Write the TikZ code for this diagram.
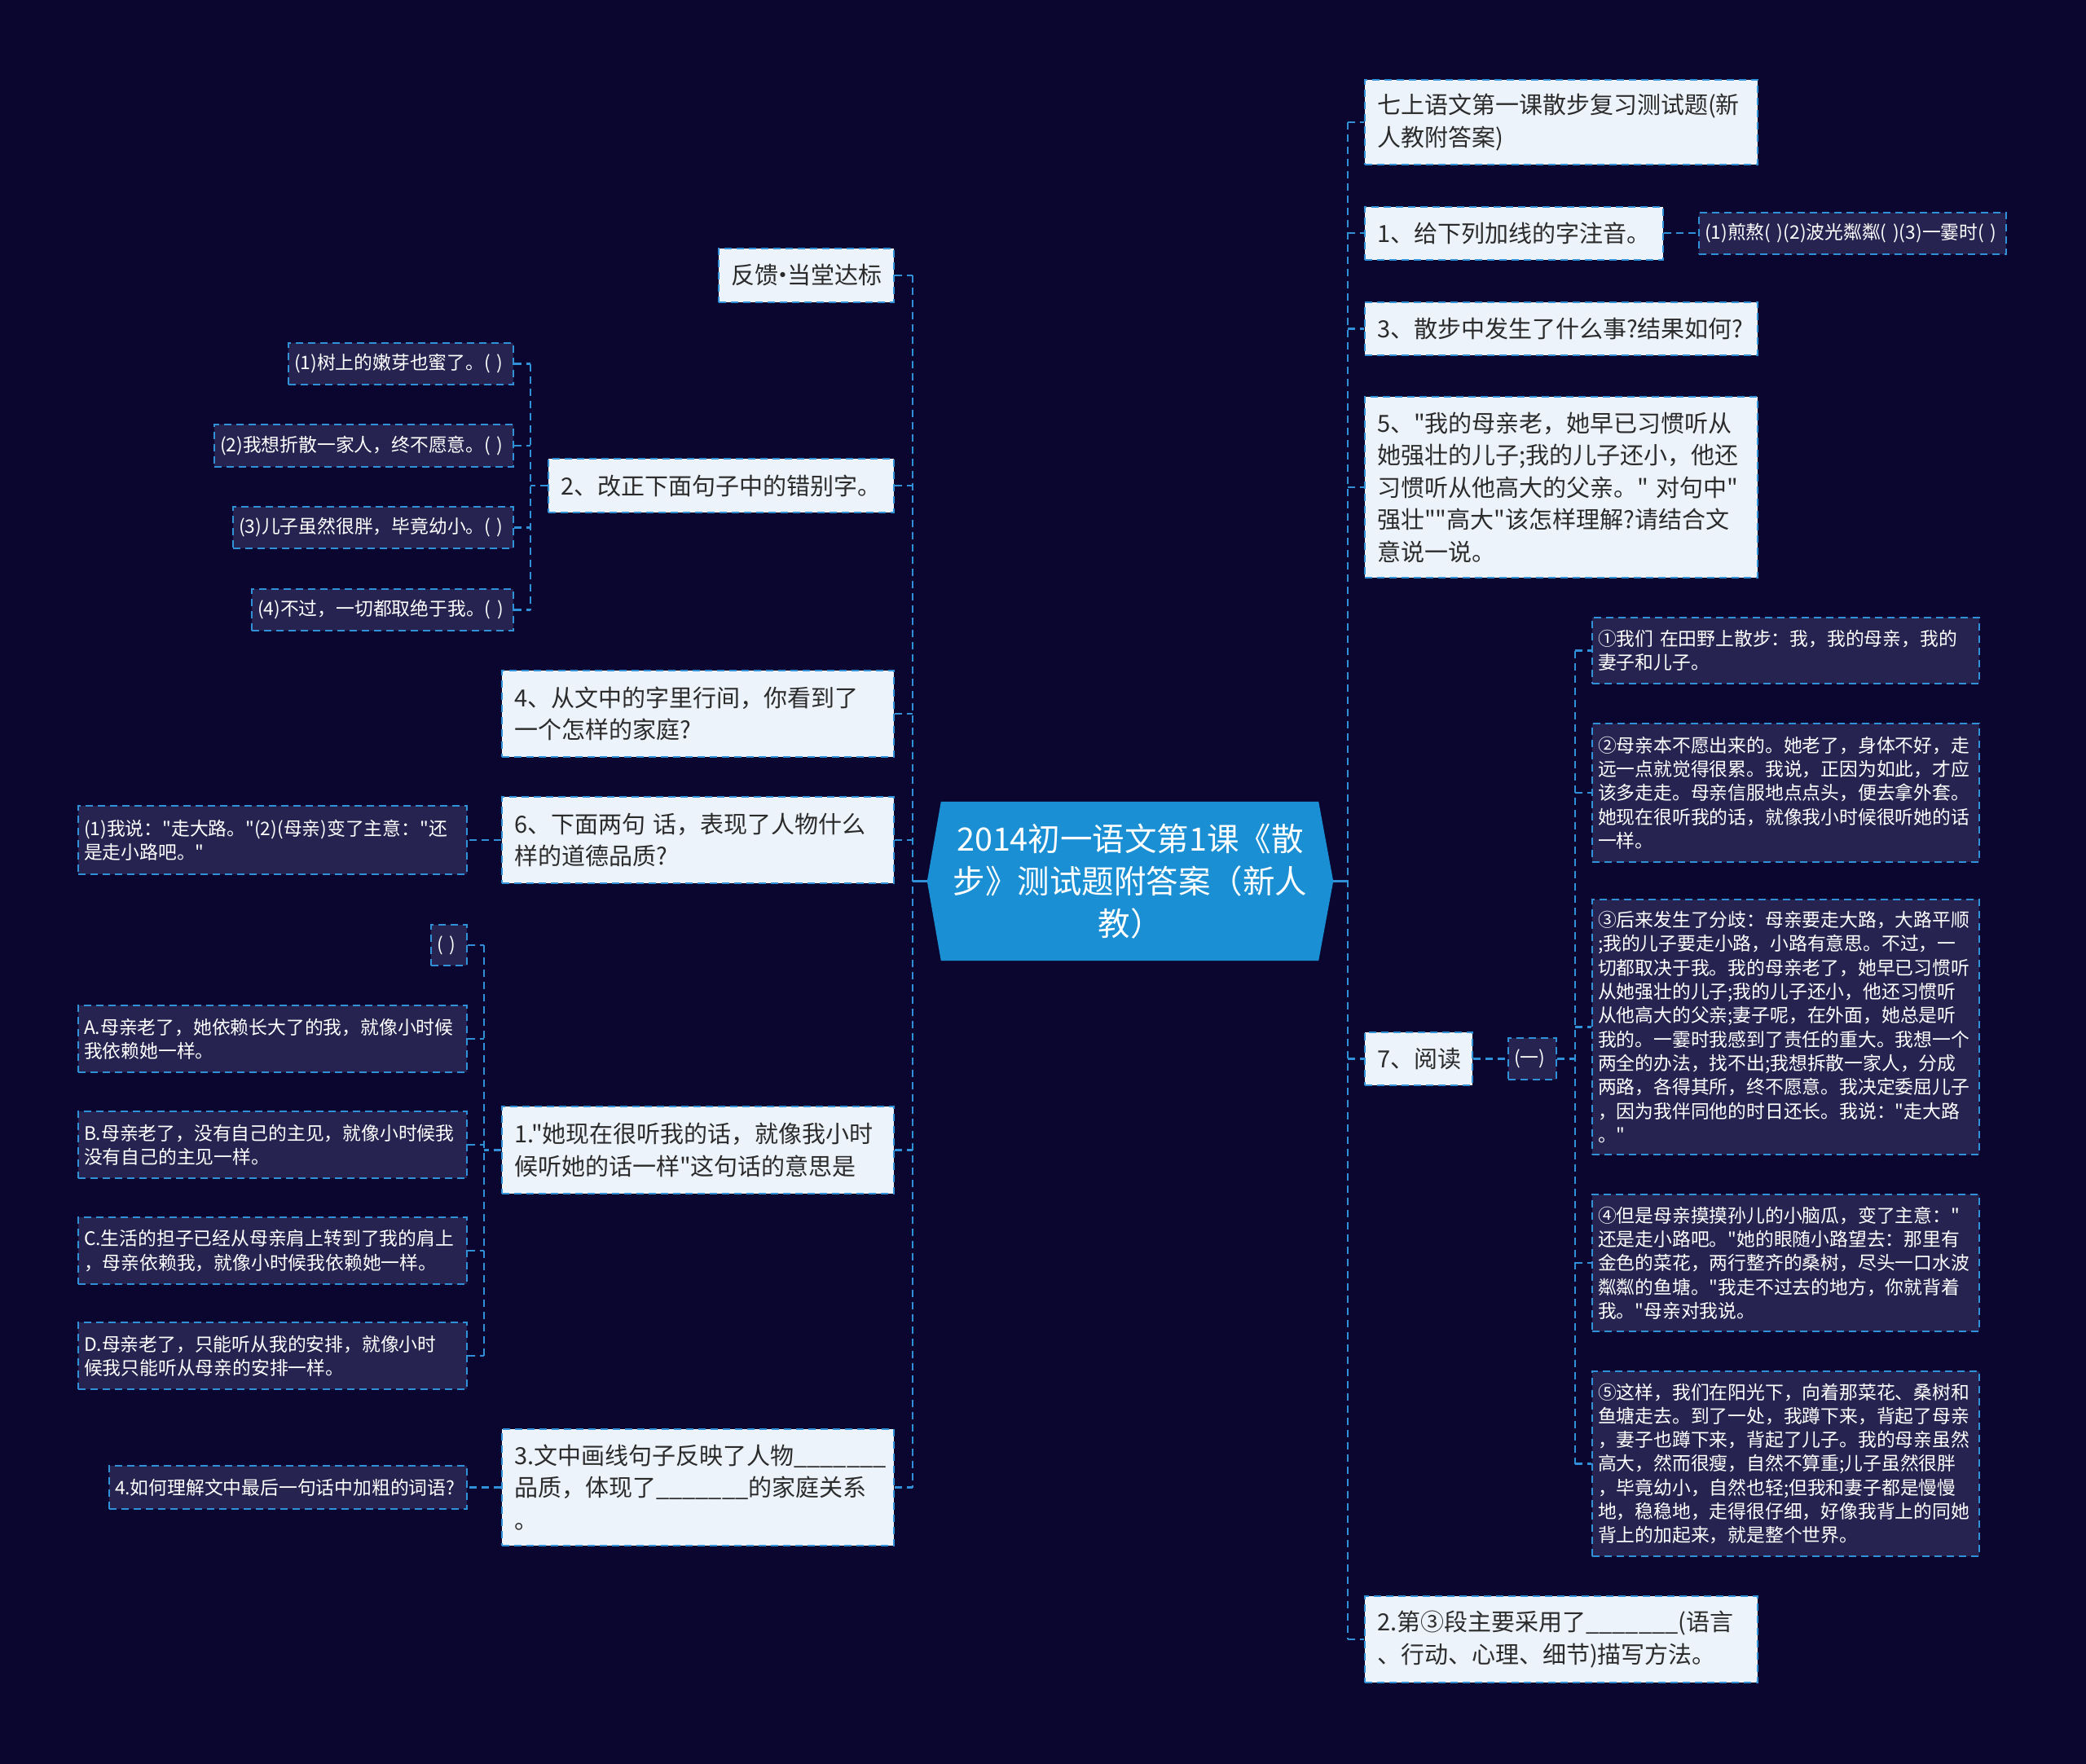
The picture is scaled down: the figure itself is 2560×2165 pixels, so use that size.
\documentclass[tikz,border=0pt]{standalone}
\usepackage{fontspec}
\setmainfont{Noto Sans CJK SC}[Ligatures=TeXOff]
\usetikzlibrary{backgrounds}
\definecolor{bgnavy}{HTML}{0B0630}
\definecolor{lightfill}{HTML}{EDF3FB}
\definecolor{darkfill}{HTML}{262350}
\definecolor{lineblue}{HTML}{3090D8}
\definecolor{rootblue}{HTML}{1A8FD3}
\definecolor{darktext}{HTML}{2B2B2B}
\begin{document}
\begin{tikzpicture}[x=1pt,y=-1pt,
  boxbase/.style={draw=lineblue, line width=2pt, dash pattern=on 9pt off 6pt, align=left, inner ysep=2pt},
  lightbox/.style={boxbase, fill=lightfill, text=darktext, inner xsep=15pt, font=\fontsize{29}{39.5}\selectfont},
  darkbox/.style={boxbase, fill=darkfill, text=white, inner xsep=7pt, font=\fontsize{22.8}{29.3}\selectfont},
  conn/.style={draw=lineblue, line width=2.4pt, dash pattern=on 9pt off 6pt},
  rootlink/.style={draw=lineblue, line width=2.4pt},
  roottext/.style={text=white, align=center, inner sep=0pt, font=\fontsize{39.5}{52}\selectfont}
]
\useasboundingbox (0,0) rectangle (2560,2165);

% ---------- root ----------
\node[roottext, text width=480pt, minimum width=498pt, minimum height=195pt] (root) at (1387,1081.5)
  {2014初一语文第1课《散\\步》测试题附答案（新人\\教）};

% ---------- right side ----------
\node[lightbox, text width=452pt, minimum height=104pt] (R1) at (1916,150)
  {七上语文第一课散步复习测试题(新\\人教附答案)};
\node[lightbox, text width=336pt, minimum height=65pt] (R2) at (1858,286)
  {1、给下列加线的字注音。};
\node[darkbox, text width=363pt, minimum height=51pt] (R2a) at (2273.5,286)
  {(1)煎熬( )(2)波光粼粼( )(3)一霎时( )};
\node[lightbox, text width=452pt, minimum height=65pt] (R3) at (1916,403.5)
  {3、散步中发生了什么事?结果如何?};
\node[lightbox, text width=452pt, minimum height=222pt] (R4) at (1916,598)
  {5、"我的母亲老，她早已习惯听从\\她强壮的儿子;我的儿子还小，他还\\习惯听从他高大的父亲。" 对句中"\\强壮""高大"该怎样理解?请结合文\\意说一说。};
\node[lightbox, text width=102pt, minimum height=65pt] (R5) at (1741,1299.5)
  {7、阅读};
\node[darkbox, text width=45pt, minimum height=51pt] (R5a) at (1880.5,1299.5)
  {(一)};

\node[darkbox, text width=461pt, minimum height=81pt] (P1) at (2191.5,798.5)
  {①我们 在田野上散步：我，我的母亲，我的\\妻子和儿子。};
\node[darkbox, text width=461pt, minimum height=170pt] (P2) at (2191.5,973)
  {②母亲本不愿出来的。她老了，身体不好，走\\远一点就觉得很累。我说，正因为如此，才应\\该多走走。母亲信服地点点头，便去拿外套。\\她现在很听我的话，就像我小时候很听她的话\\一样。};
\node[darkbox, text width=461pt, minimum height=313pt] (P3) at (2191.5,1260.5)
  {③后来发生了分歧：母亲要走大路，大路平顺\\;我的儿子要走小路，小路有意思。不过，一\\切都取决于我。我的母亲老了，她早已习惯听\\从她强壮的儿子;我的儿子还小，他还习惯听\\从他高大的父亲;妻子呢，在外面，她总是听\\我的。一霎时我感到了责任的重大。我想一个\\两全的办法，找不出;我想拆散一家人，分成\\两路，各得其所，终不愿意。我决定委屈儿子\\，因为我伴同他的时日还长。我说："走大路\\。"};
\node[darkbox, text width=461pt, minimum height=168pt] (P4) at (2191.5,1550)
  {④但是母亲摸摸孙儿的小脑瓜，变了主意："\\还是走小路吧。"她的眼随小路望去：那里有\\金色的菜花，两行整齐的桑树，尽头一口水波\\粼粼的鱼塘。"我走不过去的地方，你就背着\\我。"母亲对我说。};
\node[darkbox, text width=461pt, minimum height=227pt] (P5) at (2191.5,1796.5)
  {⑤这样，我们在阳光下，向着那菜花、桑树和\\鱼塘走去。到了一处，我蹲下来，背起了母亲\\，妻子也蹲下来，背起了儿子。我的母亲虽然\\高大，然而很瘦，自然不算重;儿子虽然很胖\\，毕竟幼小，自然也轻;但我和妻子都是慢慢\\地，稳稳地，走得很仔细，好像我背上的同她\\背上的加起来，就是整个世界。};
\node[lightbox, text width=452pt, minimum height=106pt] (R6) at (1916,2012)
  {2.第③段主要采用了\_\_\_\_\_\_\_(语言\\、行动、心理、细节)描写方法。};

% ---------- left side ----------
\node[lightbox, text width=185pt, minimum height=66pt] (L1) at (989.5,338)
  {反馈\kern-0.3em•\kern-0.3em当堂达标};
\node[lightbox, text width=394pt, minimum height=66pt] (L2) at (885,596)
  {2、改正下面句子中的错别字。};
\node[darkbox, text width=262pt, minimum height=51pt] (L2a) at (492,446.5)
  {(1)树上的嫩芽也蜜了。( )};
\node[darkbox, text width=353pt, minimum height=52pt] (L2b) at (446.5,547)
  {(2)我想折散一家人，终不愿意。( )};
\node[darkbox, text width=330pt, minimum height=51pt] (L2c) at (458,647.5)
  {(3)儿子虽然很胖，毕竟幼小。( )};
\node[darkbox, text width=307pt, minimum height=51pt] (L2d) at (469.5,748.5)
  {(4)不过，一切都取绝于我。( )};
\node[lightbox, text width=451pt, minimum height=106pt] (L3) at (856.5,876)
  {4、从文中的字里行间，你看到了\\一个怎样的家庭?};
\node[lightbox, text width=451pt, minimum height=106pt] (L4) at (856.5,1031)
  {6、下面两句 话，表现了人物什么\\样的道德品质?};
\node[darkbox, text width=463pt, minimum height=84pt] (L4a) at (334.5,1031)
  {(1)我说："走大路。"(2)(母亲)变了主意："还\\是走小路吧。"};
\node[lightbox, text width=451pt, minimum height=107pt] (L5) at (856.5,1411.5)
  {1."她现在很听我的话，就像我小时\\候听她的话一样"这句话的意思是};
\node[darkbox, text width=30pt, minimum height=50pt] (L5a) at (551,1160)
  {( )};
\node[darkbox, text width=463pt, minimum height=82pt] (L5b) at (334.5,1275)
  {A.母亲老了，她依赖长大了的我，就像小时候\\我依赖她一样。};
\node[darkbox, text width=463pt, minimum height=82pt] (L5c) at (334.5,1405)
  {B.母亲老了，没有自己的主见，就像小时候我\\没有自己的主见一样。};
\node[darkbox, text width=463pt, minimum height=82pt] (L5d) at (334.5,1535)
  {C.生活的担子已经从母亲肩上转到了我的肩上\\，母亲依赖我，就像小时候我依赖她一样。};
\node[darkbox, text width=463pt, minimum height=82pt] (L5e) at (334.5,1664)
  {D.母亲老了，只能听从我的安排，就像小时\\候我只能听从母亲的安排一样。};
\node[lightbox, text width=451pt, minimum height=143pt] (L6) at (856.5,1825.5)
  {3.文中画线句子反映了人物\_\_\_\_\_\_\_\\品质，体现了\_\_\_\_\_\_\_的家庭关系\\。};
\node[darkbox, text width=425pt, minimum height=53pt] (L6a) at (353.5,1825.5)
  {4.如何理解文中最后一句话中加粗的词语?};

% ---------- spine coordinates ----------
\coordinate (spL) at (1120,1081.5);
\coordinate (spR) at (1654,1081.5);
\coordinate (spL2) at (651,596);
\coordinate (spL5) at (594,1411.5);
\coordinate (spP) at (1933,1299.5);

% ---------- connectors: left ----------
\draw[rootlink] (root.west) -- (spL);
\draw[conn] (L1.east -| spL) -- (L6.east -| spL);
\foreach \n in {L1,L2,L3,L4,L5,L6} \draw[conn] (\n.east) -- (\n.east -| spL);

\draw[conn] (L2.west) -- (spL2);
\draw[conn] (L2a.east -| spL2) -- (L2d.east -| spL2);
\foreach \n in {L2a,L2b,L2c,L2d} \draw[conn] (\n.east) -- (\n.east -| spL2);

\draw[conn] (L4.west) -- (L4a.east);

\draw[conn] (L5.west) -- (spL5);
\draw[conn] (L5a.east -| spL5) -- (L5e.east -| spL5);
\foreach \n in {L5a,L5b,L5c,L5d,L5e} \draw[conn] (\n.east) -- (\n.east -| spL5);

\draw[conn] (L6.west) -- (L6a.east);

% ---------- connectors: right ----------
\draw[rootlink] (root.east) -- (spR);
\draw[conn] (R1.west -| spR) -- (R6.west -| spR);
\foreach \n in {R1,R2,R3,R4,R5,R6} \draw[conn] (\n.west -| spR) -- (\n.west);

\draw[conn] (R2.east) -- (R2a.west);
\draw[conn] (R5.east) -- (R5a.west);

\draw[conn] (R5a.east) -- (spP);
\draw[conn] (P1.west -| spP) -- (P5.west -| spP);
\foreach \n in {P1,P2,P3,P4,P5} \draw[conn] (\n.west -| spP) -- (\n.west);

% ---------- background ----------
\begin{pgfonlayer}{background}
  \fill[bgnavy] (0,0) rectangle (2560,2165);
  \fill[rootblue] (root.west) -- ([xshift=17pt]root.north west) -- ([xshift=-18pt]root.north east)
     -- (root.east) -- ([xshift=-18pt]root.south east) -- ([xshift=17pt]root.south west) -- cycle;
\end{pgfonlayer}
\end{tikzpicture}
\end{document}
